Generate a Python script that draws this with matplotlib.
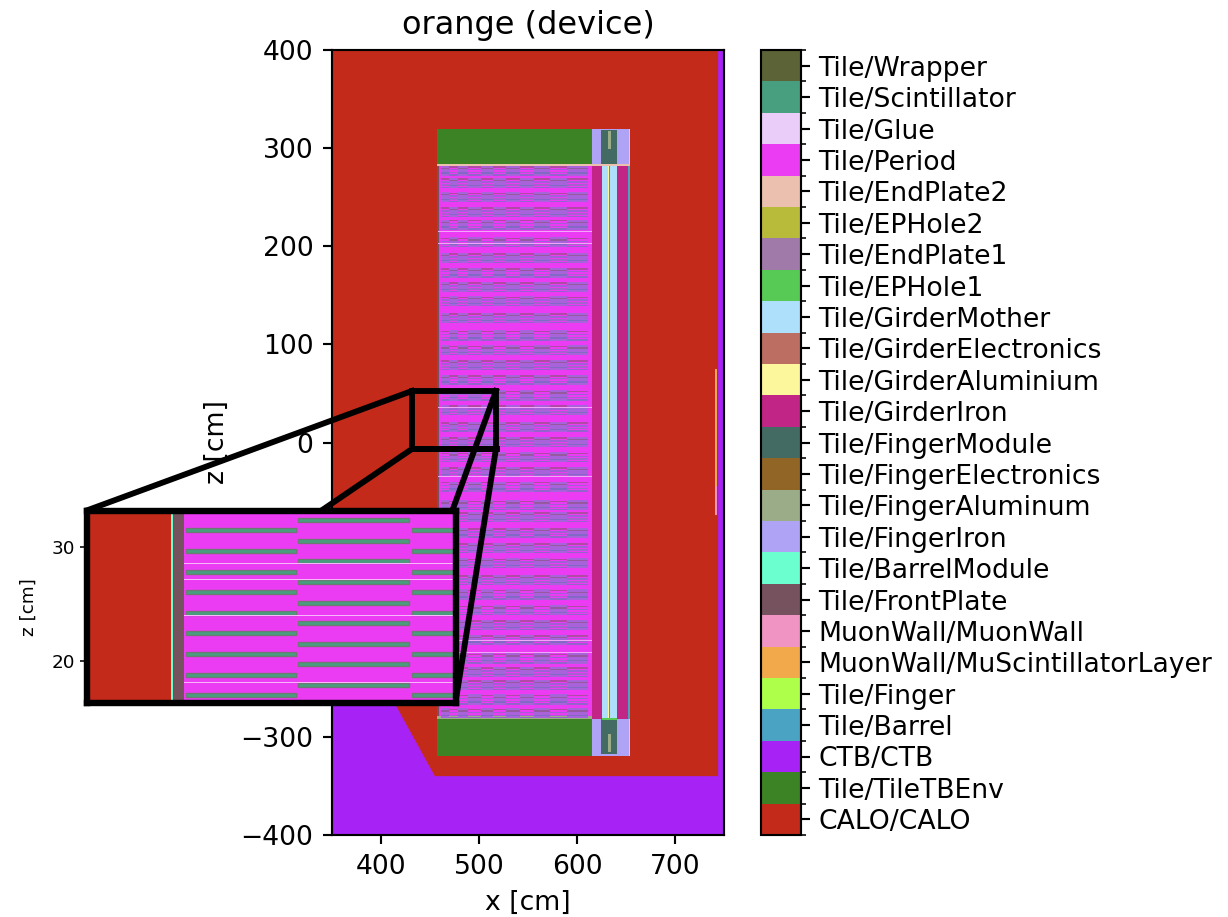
import numpy as np
import matplotlib
matplotlib.use('Agg')
import matplotlib.pyplot as plt
from matplotlib.colors import ListedColormap, BoundaryNorm
from matplotlib.cm import ScalarMappable

# materials, bottom to top of the colorbar
names = ['CALO/CALO', 'Tile/TileTBEnv', 'CTB/CTB', 'Tile/Barrel', 'Tile/Finger',
         'MuonWall/MuScintillatorLayer', 'MuonWall/MuonWall', 'Tile/FrontPlate',
         'Tile/BarrelModule', 'Tile/FingerIron', 'Tile/FingerAluminum',
         'Tile/FingerElectronics', 'Tile/FingerModule', 'Tile/GirderIron',
         'Tile/GirderAluminium', 'Tile/GirderElectronics', 'Tile/GirderMother',
         'Tile/EPHole1', 'Tile/EndPlate1', 'Tile/EPHole2', 'Tile/EndPlate2',
         'Tile/Period', 'Tile/Glue', 'Tile/Scintillator', 'Tile/Wrapper']
colors = ['#c42a1a', '#3c8325', '#a722f5', '#4ba3c3', '#aeff4a',
          '#f2a94b', '#ef94c3', '#75525e',
          '#6bffcf', '#aea3f5', '#9bac88',
          '#916526', '#446b63', '#c12585',
          '#fcf69d', '#bd6e62', '#aedffb',
          '#57c955', '#a07aa9', '#b8ba3a', '#ebc0ae',
          '#eb3bf3', '#ebcdf9', '#479f80', '#5c6336']
col = dict(zip(names, colors))

# outline of the CALO volume (cm)
calo_x = [350, 744, 744, 455, 350]
calo_z = [400, 400, -340, -340, -150]

# solid blocks of the module: material, x0, x1, z0, z1 (cm)
blocks = [
    ('Tile/TileTBEnv', 457, 615, 284, 320),
    ('Tile/TileTBEnv', 457, 615, -319, -282),
    ('Tile/FingerIron', 615, 654, 284, 320),
    ('Tile/FingerIron', 615, 654, -319, -282),
    ('Tile/FingerModule', 624.5, 641, 284, 318),
    ('Tile/FingerModule', 624.5, 641, -317, -282),
    ('Tile/FingerAluminum', 631.5, 634.5, 299, 317),
    ('Tile/FingerAluminum', 631.5, 634.5, -315, -297),
    ('Tile/Finger', 653, 654, 284, 320),
    ('Tile/Finger', 653, 654, -319, -282),
    ('Tile/Period', 458, 615, -282, 284),
    ('Tile/FrontPlate', 457, 458.7, -282, 284),
    ('Tile/GirderIron', 615, 625, -282, 284),
    ('Tile/GirderMother', 625, 641, -282, 284),
    ('Tile/GirderIron', 641, 652, -282, 284),
    ('Tile/Barrel', 652, 654, -282, 284),
    ('Tile/GirderAluminium', 631.5, 633, -282, 284),
    ('Tile/GirderElectronics', 633, 634, -282, 284),
    ('Tile/EndPlate2', 457, 654, 282, 284),
    ('Tile/FingerAluminum', 457, 615, -282, -279),
    ('Tile/EPHole1', 625, 641, -283, -281),
    ('MuonWall/MuScintillatorLayer', 740.5, 742.5, -44, 75),
    ('MuonWall/MuonWall', 740.5, 742.5, -74, -44),
]

# stripe bands in the period region (z, cm), read top to bottom
band_z = [277, 264.5, 250, 235, 222, 204, 188, 173, 158.5, 144, 127, 109, 94, 79, 64,
          48, 33, 16, 0.5, -15, -30, -45, -64, -76, -92, -107.5, -123, -140, -155,
          -171, -186, -201, -220, -234, -247, -262, -276]
# column edges of the two alternating tile sets (cm)
cols_a = [(461, 469), (479, 489), (502, 514), (528, 542), (556, 572), (590, 611)]
cols_b = [(469, 479), (489, 502), (514, 528), (542, 556), (572, 590)]
# glue lines across the period region (z, cm)
glue_z = [214.6, 203, 36, -35, -202, -213.6]

# inset: tile rows of the first three columns (z, cm)
rows_1 = [31.5, 29.67, 27.85, 26.03, 24.2, 22.41, 20.59, 18.77, 16.95]
rows_2 = [32.41, 30.58, 28.77, 26.96, 25.11, 23.3, 21.5, 19.68, 17.86]
inset_glue = [28.59, 27.12, 23.97, 18.06]

# zoom box and connector ends (cm)
box_x = [431.6, 431.6, 517.3, 517.3, 432.0, 518.3]
box_z = [-6.6, 52.5, 52.5, -6.6, -6.6, -6.6]
conn = [((431.6, 52.5), (101, -68.8)),
        ((431.6, -6.6), (340, -68.8)),
        ((517.3, 52.5), (473, -68.8)),
        ((517.3, -6.6), (476, -265))]

def block(a, mat, x0, x1, z0, z1):
    a.barh(z0, x1 - x0, height=z1 - z0, left=x0, align='edge', color=col[mat], linewidth=0)

fig = plt.figure(figsize=(1228/192, 917/192), dpi=192)
W = 1228.0; H = 917.0
ax = fig.add_axes([332/W, 1 - 835/H, 392/W, 785/H])
ax.set_facecolor(col['CTB/CTB'])
ax.fill(calo_x, calo_z, color=col['CALO/CALO'], linewidth=0)
for b in blocks:
    block(ax, *b)

for i, z in enumerate(band_z):
    thick, thin = (cols_a, cols_b) if i % 2 == 0 else (cols_b, cols_a)
    for x0, x1 in thick:
        ax.barh(z, x1 - x0, height=10.5, left=x0, color='#a862da', linewidth=0)
        ax.barh(z + 2.4, x1 - x0, height=1.3, left=x0, color='#96589e', linewidth=0)
        ax.barh(z - 2.4, x1 - x0, height=1.3, left=x0, color='#8468c6', linewidth=0)
    for x0, x1 in thin:
        ax.barh(z + 4, x1 - x0, height=1.5, left=x0, color='#b04aa4', linewidth=0)
        ax.barh(z + 1, x1 - x0, height=1.5, left=x0, color='#a05fd4', linewidth=0)
        ax.barh(z - 2, x1 - x0, height=1.5, left=x0, color='#a860d0', linewidth=0)
        ax.barh(z - 4.5, x1 - x0, height=1.5, left=x0, color='#9464cc', linewidth=0)
for z in glue_z:
    ax.barh(z, 157, height=0.9, left=458, color='#f2a6f8', linewidth=0)

ax.set_xlim(350, 750)
ax.set_ylim(-400, 400)
ax.set_xticks([400, 500, 600, 700])
ax.set_yticks(np.arange(-400, 401, 100))
ax.set_xlabel('x [cm]')
ax.set_ylabel('z [cm]')
ax.set_title('orange (device)')

# zoom box and connectors sit above the axis label, like the reference
ax.plot(box_x, box_z, color='k', lw=2.2, zorder=4, clip_on=False, solid_joinstyle='miter')
for p, q in conn:
    ax.plot([p[0], q[0]], [p[1], q[1]], color='k', lw=2.2, zorder=4, clip_on=False)

# inset
axin = ax.inset_axes([100, -265.4, 376.5, 195.7], transform=ax.transData)
axin.set_facecolor(col['Tile/Period'])
block(axin, 'CALO/CALO', 450, 457.4, 16, 34)
block(axin, 'Tile/BarrelModule', 457.4, 457.55, 16, 34)
block(axin, 'Tile/FrontPlate', 457.55, 458.55, 16, 34)
for z in rows_1:
    for x0, x1 in [(458.7, 468.4), (478.6, 488.4)]:
        axin.barh(z, x1 - x0, height=0.36, left=x0, color=col['Tile/Scintillator'],
                  edgecolor='#6f7a72', linewidth=0.5)
for z in rows_2:
    axin.barh(z, 9.8, height=0.36, left=468.6, color=col['Tile/Scintillator'],
              edgecolor='#6f7a72', linewidth=0.5)
for z in inset_glue:
    axin.barh(z, 24, height=0.07, left=458.55, color='#f8b8fb', linewidth=0)
axin.set_xlim(450, 482.5)
axin.set_ylim(16.27, 33.2)
axin.set_xticks([])
axin.set_yticks([20, 30])
axin.tick_params(labelsize=6.9, length=2.5, width=0.6, pad=2)
axin.set_ylabel('z [cm]', fontsize=6.9, labelpad=5)
for s in axin.spines.values():
    s.set_linewidth(2.4)

# colorbar
n = len(names)
bounds = np.arange(n + 1)
cax = fig.add_axes([761/W, 1 - 835/H, 40/W, 785/H])
sm = ScalarMappable(norm=BoundaryNorm(bounds, n), cmap=ListedColormap(colors))
cb = fig.colorbar(sm, cax=cax, spacing='uniform')
cb.set_ticks(bounds[:-1] + 0.5)
cb.set_ticklabels(names)
cax.yaxis.set_ticks(bounds, minor=True)
cax.tick_params(axis='y', which='major', pad=2.9)

fig.savefig('out.png', dpi=192)
